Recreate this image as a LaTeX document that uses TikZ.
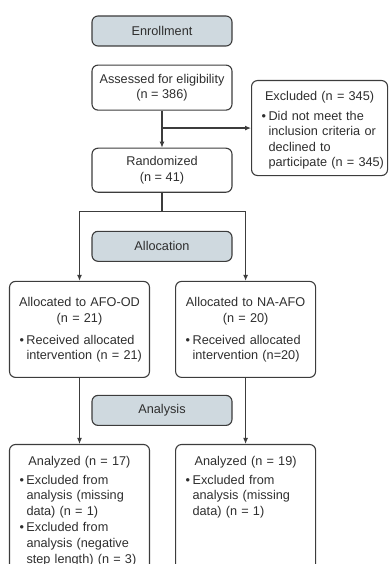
\documentclass[tikz,border=0pt]{standalone}
\usepackage{fontspec}
\setmainfont{Liberation Sans}
\usetikzlibrary{positioning,arrows.meta}

\definecolor{stageblue}{HTML}{CFD9DF}
\definecolor{edgegray}{HTML}{3C3C3C}
\definecolor{textgray}{HTML}{2E2E2E}

\newcommand{\bhead}[2]{{\centering #2\par}\vspace{#1}}
\newcommand{\bitem}[1]{\par\noindent\makebox[9pt][l]{\hspace{2pt}\textbullet}%
    \begin{tabular}[t]{@{}l@{}}#1\end{tabular}\par}

\begin{document}
\begin{tikzpicture}[x=1pt,y=-1pt,
    font=\fontsize{12.7}{15.6}\selectfont,
    color=edgegray, text=textgray,
    line width=1.1pt,
    >={Latex[length=6pt,width=5pt]},
    box/.style={draw, rounded corners=6pt, minimum width=140pt, align=center},
    stage/.style={box, fill=stageblue, minimum height=30pt},
    listbox/.style={draw, rounded corners=6pt, align=left, text width=124pt,
        inner xsep=8pt, inner ysep=0pt}
]

\useasboundingbox (0,0) rectangle (388,564);
\clip (0,0) rectangle (388,564);

\node[stage] (enroll) at (162,31) {Enrollment};

\node[box,
    below=18pt of enroll,
    minimum height=45pt
] (assess) {Assessed for eligibility\\(n = 386)};

\node[listbox,
    anchor=north west,
    text width=120pt,
    text height=19.5pt,
    text depth=75.5pt
] (excl) at (251,80) {\bhead{4.5pt}{Excluded (n = 345)}\bitem{Did not meet the\\inclusion criteria or\\declined to\\participate (n = 345)}};

\node[box,
    below=37pt of assess,
    minimum height=44pt
] (rand) {Randomized\\(n = 41)};

\node[stage, below=38pt of rand] (alloc) {Allocation};

\node[listbox,
    below=19pt of alloc,
    xshift=-82.5pt,
    text height=25.5pt,
    text depth=70.5pt
] (afood) {\bhead{6pt}{Allocated to AFO-OD\\(n = 21)}\bitem{Received allocated\\intervention (n = 21)}};

\node[listbox,
    right=25pt of afood,
    text height=25.5pt,
    text depth=70.5pt
] (naafo) {\bhead{6pt}{Allocated to NA-AFO\\(n = 20)}\bitem{Received allocated\\intervention (n=20)}};

\node[stage, below=133pt of alloc] (analysis) {Analysis};

\node[listbox,
    below=66pt of afood,
    text height=20.5pt,
    text depth=150pt
] (an1) {\bhead{3.5pt}{Analyzed (n = 17)}\bitem{Excluded from\\analysis (missing\\data) (n = 1)}\bitem{Excluded from\\analysis (negative\\step length) (n = 3)}};

\node[listbox,
    below=66pt of naafo,
    text height=20.5pt,
    text depth=150pt
] (an2) {\bhead{3.5pt}{Analyzed (n = 19)}\bitem{Excluded from\\analysis (missing\\data) (n = 1)}};

\coordinate (fork) at ([yshift=-19pt]rand.south);

\draw[->] (assess) -- (rand);
\draw[->] (assess.south |- excl.west) -- (excl.west);

\draw (rand) -- (fork);
\draw[->] (fork) -| (afood);
\draw[->] (fork) -| (naafo);

\draw[->] (afood) -- (an1);
\draw[->] (naafo) -- (an2);

\end{tikzpicture}
\end{document}
